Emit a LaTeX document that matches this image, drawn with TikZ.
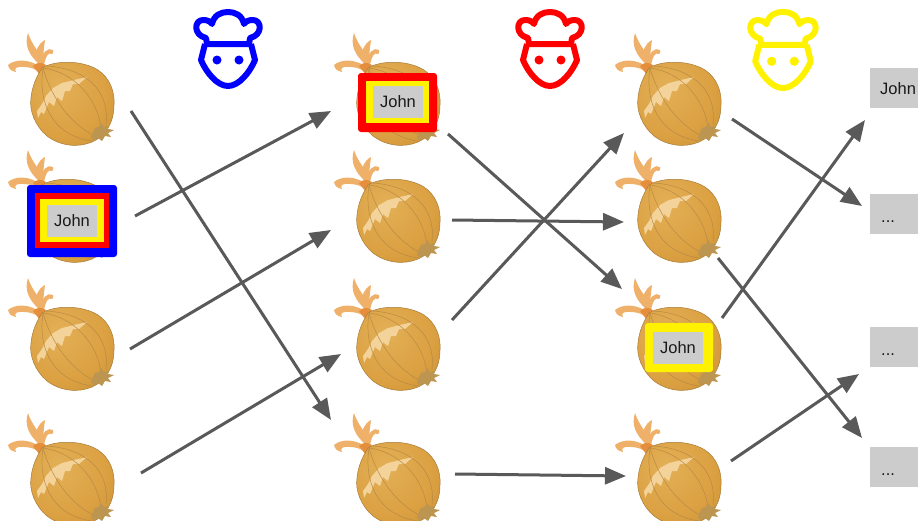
\documentclass[tikz,border=0pt]{standalone}
\usepackage{fontspec}
\setmainfont{Liberation Sans}
\usetikzlibrary{arrows.meta,calc}
\definecolor{arrowgrey}{HTML}{595959}
\definecolor{boxgrey}{HTML}{CCCCCC}
\definecolor{wisp}{HTML}{EFB06A}
\definecolor{wispdark}{HTML}{E58F3C}
\definecolor{vein}{HTML}{B98A45}
\definecolor{rim}{HTML}{A87B38}
\definecolor{shine}{HTML}{F3D39A}
\definecolor{rootc}{HTML}{BC9550}
\pgfdeclareradialshading{onionshade}{\pgfpoint{-8bp}{10bp}}{
  rgb(0bp)=(0.89,0.69,0.34);
  rgb(25bp)=(0.86,0.63,0.26);
  rgb(42bp)=(0.79,0.57,0.20);
  rgb(50bp)=(0.67,0.48,0.17);
  rgb(100bp)=(0.67,0.48,0.17)}
\tikzset{
  x=1pt,y=-1pt,
  flow/.style={draw=arrowgrey,line width=3pt,-{Triangle[length=21pt,width=17pt]}},
  labelfont/.style={font=\fontsize{16.5}{18}\selectfont,text=black!90},
  namebox/.style={fill=boxgrey,minimum width=50pt,minimum height=32pt,inner sep=0pt,labelfont},
  resultbox/.style={fill=boxgrey,minimum width=60pt,minimum height=40pt,inner sep=0pt,anchor=west},
  pics/onion/.style={code={
    \begin{scope}[shift={(-72,-104)}]
      \fill[wisp] (39,64) .. controls (29,55) and (24,45) .. (28,33) .. controls (32,45) and (38,50) .. (43,60) -- cycle;
      \fill[wisp] (37,60) .. controls (35,50) and (38,44) .. (45,40) .. controls (44,48) and (43,55) .. (43,62) -- cycle;
      \fill[wisp] (40,63) .. controls (42,52) and (48,47) .. (53,50) .. controls (54,51) and (53,54) .. (52,54) .. controls (48,52) and (46,56) .. (44,65) -- cycle;
      \fill[wisp] (43,69) .. controls (30,58) and (15,59) .. (8,65) .. controls (9,69) and (11,71) .. (16,72) .. controls (13,68) and (18,66) .. (24,67) .. controls (30,67) and (36,69) .. (40,73) -- cycle;
      \fill[wispdark] (33,66) .. controls (37,62) and (41,62) .. (46,65) -- (40,75) -- cycle;
      \path[shading=onionshade,draw=rim,line width=.5pt]
        (42,68) .. controls (55,60) and (82,60) .. (98,70)
        .. controls (110,78) and (115,92) .. (114,105)
        .. controls (114,122) and (106,136) .. (92,142)
        .. controls (78,148) and (60,146) .. (47,136)
        .. controls (35,126) and (29,110) .. (31,98)
        .. controls (32,86) and (37,76) .. (42,68) -- cycle;
      \fill[shine] (87,77) -- (79,84) -- (73,84) -- (70,91) -- (65,91) -- (62,101) -- (57,97) -- (54,106) -- (49,102) -- (44,114) -- (41,112) -- (38,118) -- (37,111) -- (42,104) -- (46,96) -- (53,88) -- (62,83) -- (74,80) -- cycle;
      \draw[vein,line width=.5pt]
        (43,68) .. controls (38,100) and (50,135) .. (92,141)
        (43,68) .. controls (52,100) and (72,125) .. (95,136)
        (43,68) .. controls (75,72) and (98,100) .. (101,128)
        (46,66) .. controls (85,68) and (110,90) .. (106,124);
      \fill[rootc] (91,137) -- (95,128) -- (99,127) -- (101,123) -- (104,127) -- (108,126) -- (108,129) -- (114,130) -- (108,133) -- (111,137) -- (105,136) -- (102,141) -- (98,138) -- (94,141) -- cycle;
    \end{scope}
  }},
  pics/chef/.style={code={
    \begin{scope}[shift={(-228,-50)},draw=#1,line width=6pt,line join=round]
      \draw (207,44) -- (206,38) .. controls (193,35) and (194,20) .. (203,20)
            .. controls (207,20) and (210,21) .. (212,24)
            .. controls (214,15) and (221,12) .. (228,12)
            .. controls (235,12) and (242,15) .. (244,24)
            .. controls (246,21) and (249,20) .. (253,20)
            .. controls (262,20) and (263,35) .. (250,38) -- (249,44) -- cycle;
      \draw (205,44) -- (203,52) -- (201,60) .. controls (206,72) and (217,86) .. (228,86)
            .. controls (239,86) and (250,72) .. (255,60) -- (253,52) -- (251,44);
      \fill[#1] (217,60) circle[radius=4.5];
      \fill[#1] (239,60) circle[radius=4.5];
    \end{scope}
  }}
}
\begin{document}
\begin{tikzpicture}
\useasboundingbox (0,0) rectangle (918,520);
\fill[white] (0,0) rectangle (918,520);
% onion positions
\coordinate (o11) at (72,104);  \coordinate (o12) at (72,221);  \coordinate (o13) at (72,349);  \coordinate (o14) at (72,484);
\coordinate (o21) at (398,104); \coordinate (o22) at (398,221); \coordinate (o23) at (398,349); \coordinate (o24) at (398,484);
\coordinate (o31) at (679,104); \coordinate (o32) at (679,221); \coordinate (o33) at (679,349); \coordinate (o34) at (679,484);
\foreach \n in {o11,o12,o13,o14,o21,o22,o23,o24,o31,o32,o33,o34}{
  \pic at (\n) {onion};
}
% chefs
\pic at (228,50) {chef=blue};
\pic at (550,50) {chef=red};
\pic[scale=1.03] at (783,51) {chef=yellow};
% result boxes
\node[resultbox] (r1) at (870,88) {};
\node[resultbox] (r2) at (870,214) {};
\node[resultbox] (r3) at (870,347) {};
\node[resultbox] (r4) at (870,467) {};
\node[labelfont,inner sep=0pt,anchor=west] (d1) at (880,89) {John};
\node[labelfont,inner sep=0pt,anchor=base west] (d2) at (881,222) {...};
\node[labelfont,inner sep=0pt,anchor=base west] (d3) at (881,355) {...};
\node[labelfont,inner sep=0pt,anchor=base west] (d4) at (881,475) {...};
% connectors
\draw[flow] ($(o11)+(59,7)$) -- ($(o24)+(-67,-64)$);
\draw[flow] ($(o12)+(63,-5)$) -- ($(o21)+(-67,7)$);
\draw[flow] ($(o13)+(58,0)$) -- ($(o22)+(-67,9)$);
\draw[flow] ($(o14)+(69,-11)$) -- ($(o23)+(-57,5)$);
\draw[flow] ($(o21)+(50,30)$) -- ($(o33)+(-57,-60)$);
\draw[flow] ($(o22)+(54,-1)$) -- ($(o32)+(-55,1)$);
\draw[flow] ($(o23)+(54,-29)$) -- ($(o31)+(-55,29)$);
\draw[flow] ($(o24)+(57,-10)$) -- ($(o34)+(-53,-8)$);
\draw[flow] ($(o31)+(53,15)$) -- ($(r2.west)+(-8,-8)$);
\draw[flow] ($(o32)+(39,37)$) -- ($(r4.west)+(-8,-29)$);
\draw[flow] ($(o33)+(43,-31)$) -- ($(r1.west)+(-5,32)$);
\draw[flow] ($(o34)+(52,-23)$) -- ($(r3.west)+(-11,27)$);
% John, first column
\fill[blue,rounded corners=3pt] (27,185) rectangle (117,257);
\fill[red] (35,193) rectangle (109,248);
\fill[yellow] (40,199) rectangle (104,242);
\node[namebox] (j1) at (72,221) {John};
% John, second column
\fill[red,rounded corners=3pt] (358,73) rectangle (437,132);
\fill[yellow] (366,81) rectangle (429,123);
\node[namebox] (j2) at (398,102) {John};
% John, third column
\fill[yellow,rounded corners=3pt] (645,323) rectangle (713,372);
\node[namebox] (j3) at (678,348) {John};
\end{tikzpicture}
\end{document}
